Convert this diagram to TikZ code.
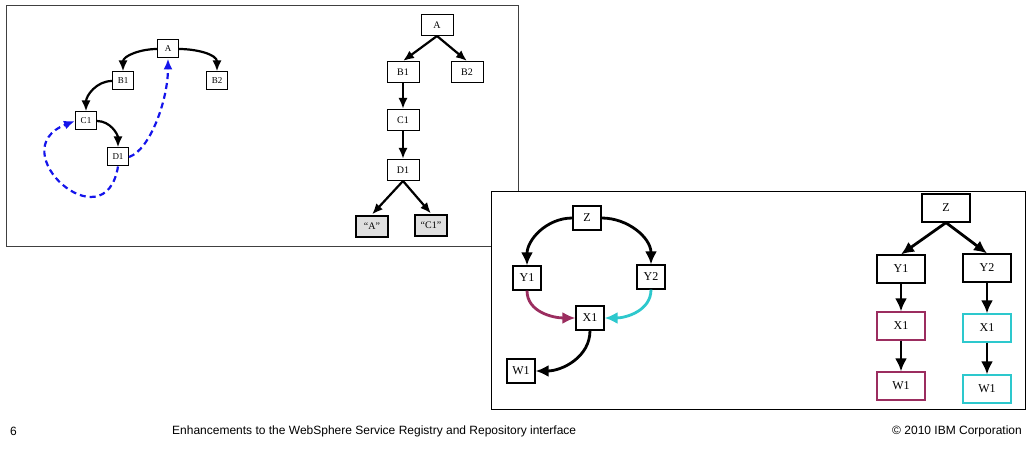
\documentclass[tikz,border=0pt]{standalone}
\usepackage{fontspec}
\setmainfont{Liberation Serif}
\newfontfamily\footfont{Liberation Sans}
\usetikzlibrary{arrows.meta}

\definecolor{linkblue}{RGB}{20,20,235}
\definecolor{linkmaroon}{RGB}{155,45,95}
\definecolor{linkcyan}{RGB}{45,200,205}

\tikzset{
  smallbox/.style={draw, line width=1pt, inner sep=0pt, minimum width=21pt, minimum height=18pt, font=\fontsize{9}{9}\selectfont},
  treebox/.style={draw, line width=1pt, inner sep=0pt, minimum width=32pt, minimum height=21pt, font=\fontsize{10}{10}\selectfont},
  valbox/.style={treebox, fill=gray!25, line width=2pt},
  midbox/.style={draw, line width=1.2pt, inner sep=0pt, minimum width=28pt, minimum height=24pt, font=\fontsize{12}{12}\selectfont},
  bigbox/.style={draw, line width=1.2pt, inner sep=0pt, minimum width=48pt, minimum height=28pt, font=\fontsize{12}{12}\selectfont},
  link/.style={-{Latex[length=11pt,width=9pt]}, line width=2.2pt},
  biglink/.style={-{Latex[length=13pt,width=12pt]}, line width=2.8pt},
}

\begin{document}
\begin{tikzpicture}[x=1pt,y=-1pt]
  \useasboundingbox (0,0) rectangle (1027,449);

  % 第一个框: 带环的图
  \draw[black!75, line width=1pt] (6,6) rectangle (518,246);

  \node[smallbox] (a) at (168,49) {A};
  \node[smallbox] (b1) at (123,81) {B1};
  \node[smallbox] (b2) at (217,81) {B2};
  \node[smallbox] (c1) at (86,121) {C1};
  \node[smallbox] (d1) at (118,157) {D1};

  \draw[link] (a.west) to[out=180, in=90] (b1.north);
  \draw[link] (a.east) to[out=0, in=90] (b2.north);
  \draw[link] (b1.west) to[out=180, in=90] (c1.north);
  \draw[link] (c1.east) to[out=0, in=90] (d1.north);

  % 蓝色虚线: 回边
  \draw[link, linkblue, dash pattern=on 6pt off 4pt] (d1.east) .. controls (150,150) and (168,100) .. (a.south);
  \draw[link, linkblue, dash pattern=on 6pt off 4pt] (d1.south) .. controls (105,245) and (0,150) .. (c1.west);

  % 展开后的树
  \node[treebox] (ta) at (437,25) {A};
  \node[treebox] (tb1) at (403,72) {B1};
  \node[treebox] (tb2) at (467,72) {B2};
  \node[treebox] (tc1) at (403,120) {C1};
  \node[treebox] (td1) at (403,170) {D1};
  \node[valbox] (tva) at (372,226) {“A”};
  \node[valbox] (tvc) at (431,225) {“C1”};

  \draw[link] (ta.south) -- (tb1.north);
  \draw[link] (ta.south) -- (tb2.north);
  \draw[link] (tb1.south) -- (tc1.north);
  \draw[link] (tc1.south) -- (td1.north);
  \draw[link] (td1.south) -- (tva.north);
  \draw[link] (td1.south) -- (tvc.north);

  % 第二个框: 共享节点
  \draw[fill=white, line width=1pt] (491,191) rectangle (1025,409);

  \node[midbox] (z) at (587,218) {Z};
  \node[midbox] (y1) at (527,278) {Y1};
  \node[midbox] (y2) at (651,277) {Y2};
  \node[midbox] (x1) at (590,318) {X1};
  \node[midbox] (w1) at (521,371) {W1};

  \draw[biglink] (z.west) to[out=180, in=90] (y1.north);
  \draw[biglink] (z.east) to[out=0, in=90] (y2.north);
  \draw[biglink, linkmaroon] (y1.south) to[out=270, in=180] (x1.west);
  \draw[biglink, linkcyan] (y2.south) to[out=270, in=0] (x1.east);
  \draw[biglink] (x1.south) to[out=270, in=0] (w1.east);

  % 展开后的树
  \node[bigbox] (tz) at (946,208) {Z};
  \node[bigbox] (ty1) at (901,269) {Y1};
  \node[bigbox] (ty2) at (987,268) {Y2};
  \node[bigbox, draw=linkmaroon] (tx1l) at (901,326) {X1};
  \node[bigbox, draw=linkcyan] (tx1r) at (987,328) {X1};
  \node[bigbox, draw=linkmaroon] (tw1l) at (901,386) {W1};
  \node[bigbox, draw=linkcyan] (tw1r) at (987,389) {W1};

  \draw[biglink] (tz.south) -- (ty1.north);
  \draw[biglink] (tz.south) -- (ty2.north);
  \draw[biglink] (ty1.south) -- (tx1l.north);
  \draw[biglink] (tx1l.south) -- (tw1l.north);
  \draw[biglink] (ty2.south) -- (tx1r.north);
  \draw[biglink] (tx1r.south) -- (tw1r.north);

  % 页脚
  \node[anchor=west, inner sep=0pt, font=\footfont\fontsize{12}{12}\selectfont] (pg) at (10,431) {6};
  \node[anchor=west, inner sep=0pt, font=\footfont\fontsize{12}{12}\selectfont] (title) at (172,431) {Enhancements to the WebSphere Service Registry and Repository interface};
  \node[anchor=east, inner sep=0pt, font=\footfont\fontsize{12}{12}\selectfont] (copy) at (1022,431) {© 2010 IBM Corporation};
\end{tikzpicture}
\end{document}
